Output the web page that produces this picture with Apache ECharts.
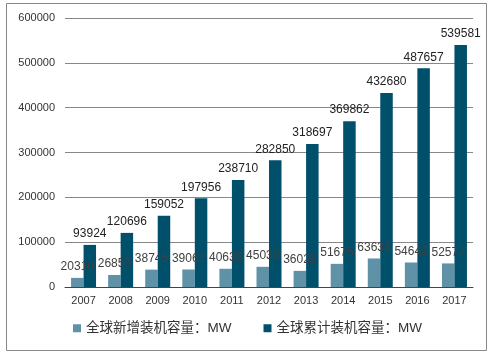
<!DOCTYPE html>
<html><head><meta charset="utf-8">
<script src="https://cdn.jsdelivr.net/npm/echarts@6/dist/echarts.min.js"></script>
<style>html,body{margin:0;padding:0;background:#fff}#c{width:495px;height:356px}</style>
</head><body><div id="c"></div>
<script>
const categories = ['2007','2008','2009','2010','2011','2012','2013','2014','2015','2016','2017'];
const newCapacity = [20310, 26850, 38745, 39062, 40635, 45030, 36023, 51675, 63633, 54642, 52573];
const totalCapacity = [93924, 120696, 159052, 197956, 238710, 282850, 318697, 369862, 432680, 487657, 539581];
const seriesNames = ['全球新增装机容量：MW', '全球累计装机容量：MW'];
const yTicks = { min: 0, max: 600000, interval: 100000 };

const chart = echarts.init(document.getElementById('c'));
const font = 'Arial, "Liberation Sans", "Noto Sans CJK SC", sans-serif';
chart.setOption({
  animation: false,
  graphic: [{type:'rect', shape:{x:6.5,y:3.5,width:480,height:347}, style:{fill:'none', stroke:'#888', lineWidth:1}, silent:true}],
  grid: {left: 65, right: 22, top: 18, bottom: 69, containLabel: false},
  legend: {
    bottom: 16, left: 'center', itemWidth: 8, itemHeight: 8, itemGap: 32,
    textStyle: {fontFamily: font, fontSize: 13.5, color: '#333'},
    data: [{name: seriesNames[0], icon: 'rect'}, {name: seriesNames[1], icon: 'rect'}]
  },
  xAxis: {
    type: 'category', data: categories,
    axisLine: {lineStyle: {color: '#444', width: 1}},
    axisTick: {show: false},
    axisLabel: {fontFamily: font, fontSize: 11, color: '#333', margin: 8}
  },
  yAxis: {
    type: 'value', min: yTicks.min, max: yTicks.max, interval: yTicks.interval,
    axisLine: {show: false}, axisTick: {show: false},
    axisLabel: {fontFamily: font, fontSize: 11, color: '#333', margin: 10, formatter: v => String(v)},
    splitLine: {lineStyle: {color: '#888', width: 1}}
  },
  series: [
    {name: seriesNames[0], type: 'bar', data: newCapacity, barWidth: 12.5, barGap: '0%',
     itemStyle: {color: '#5f91a7'},
     label: {show: true, position: 'top', distance: 5, fontFamily: font, fontSize: 12, color: '#404040'}},
    {name: seriesNames[1], type: 'bar', data: totalCapacity, barWidth: 12.5, barGap: '0%',
     itemStyle: {color: '#00506b'},
     label: {show: true, position: 'top', distance: 5, fontFamily: font, fontSize: 12, color: '#222'}}
  ]
});
</script></body></html>
